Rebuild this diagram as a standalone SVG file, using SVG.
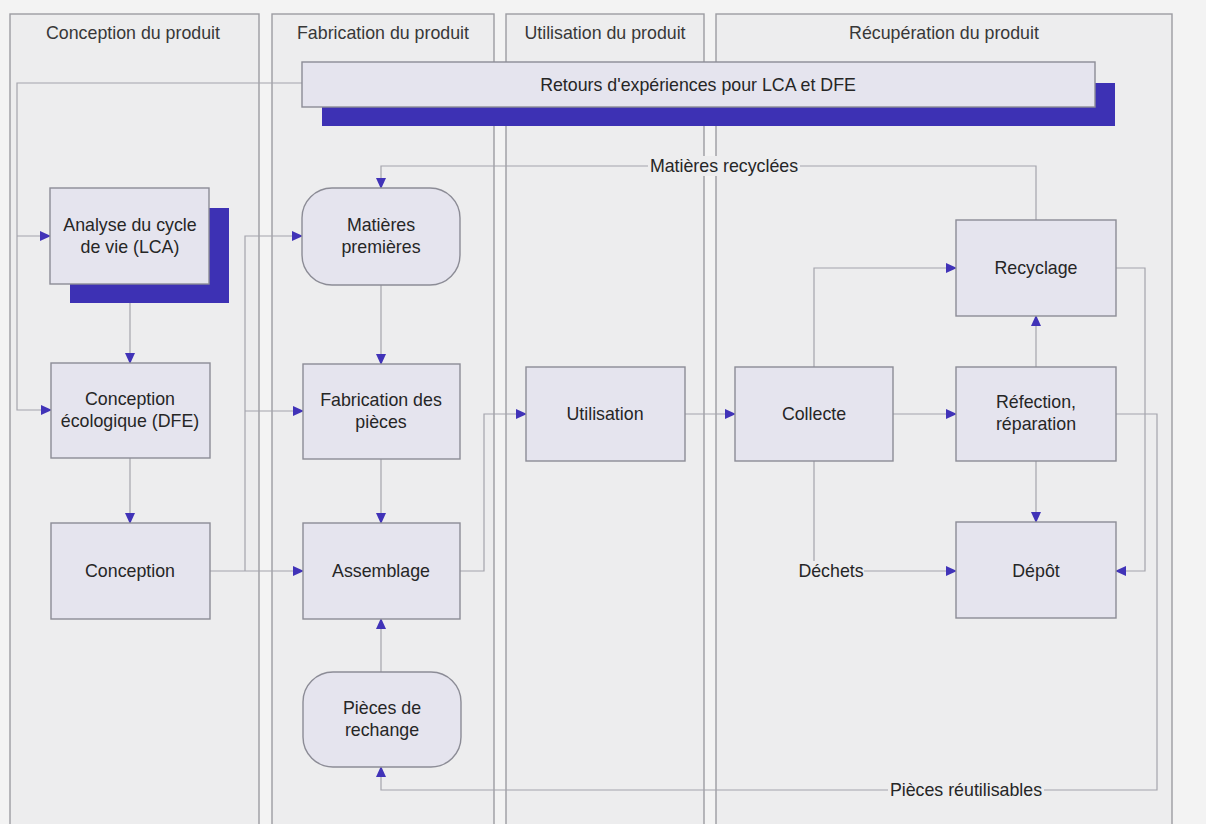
<svg xmlns="http://www.w3.org/2000/svg" width="1206" height="824" viewBox="0 0 1206 824">
  <style>
    .lane { fill: #ededee; stroke: #9c9ca2; stroke-width: 1.4; }
    .lanetitle { font-family: "Liberation Sans", Arial, sans-serif; font-size: 17.8px; fill: #383838; text-anchor: middle; }
    .box { fill: #e5e4ee; stroke: #8c8c96; stroke-width: 1.4; }
    .shadow { fill: #3d31b4; }
    .label { font-family: "Liberation Sans", Arial, sans-serif; font-size: 17.8px; fill: #262626; text-anchor: middle; }
    .conn { fill: none; stroke: #a4a4ac; stroke-width: 1.2; }
    .lblbg { fill: #ededee; }
  </style>
  <defs>
    <marker id="arrow" markerUnits="userSpaceOnUse" markerWidth="11" markerHeight="10" refX="10" refY="5" orient="auto">
      <path d="M0,0 L11,5 L0,10 z" fill="#4133b8"/>
    </marker>
  </defs>

  <rect width="1206" height="824" fill="#f3f3f3"/>

  <!-- swimlanes -->
  <g id="lanes">
    <g id="lane-conception">
      <rect class="lane" x="10" y="14" width="249" height="830"/>
      <text class="lanetitle" x="133" y="39">Conception du produit</text>
    </g>
    <g id="lane-fabrication">
      <rect class="lane" x="272" y="14" width="222" height="830"/>
      <text class="lanetitle" x="383" y="39">Fabrication du produit</text>
    </g>
    <g id="lane-utilisation">
      <rect class="lane" x="506" y="14" width="198" height="830"/>
      <text class="lanetitle" x="605" y="39">Utilisation du produit</text>
    </g>
    <g id="lane-recuperation">
      <rect class="lane" x="716" y="14" width="456" height="830"/>
      <text class="lanetitle" x="944" y="39">Récupération du produit</text>
    </g>
  </g>

  <!-- connectors -->
  <g id="connectors">
    <path class="conn" d="M302,83 H17 V410 H51" marker-end="url(#arrow)"/>
    <path class="conn" d="M17,236 H50" marker-end="url(#arrow)"/>
    <path class="conn" d="M130,303 V363" marker-end="url(#arrow)"/>
    <path class="conn" d="M130,458 V523" marker-end="url(#arrow)"/>
    <path class="conn" d="M210,571 H303" marker-end="url(#arrow)"/>
    <path class="conn" d="M245,571 V236 H302" marker-end="url(#arrow)"/>
    <path class="conn" d="M245,411 H303" marker-end="url(#arrow)"/>
    <path class="conn" d="M381,285 V364" marker-end="url(#arrow)"/>
    <path class="conn" d="M381,459 V523" marker-end="url(#arrow)"/>
    <path class="conn" d="M381,672 V619" marker-end="url(#arrow)"/>
    <path class="conn" d="M460,571 H484 V414 H526" marker-end="url(#arrow)"/>
    <path class="conn" d="M685,414 H735" marker-end="url(#arrow)"/>
    <path class="conn" d="M893,414 H956" marker-end="url(#arrow)"/>
    <path class="conn" d="M814,367 V268 H956" marker-end="url(#arrow)"/>
    <path class="conn" d="M814,461 V571 H956" marker-end="url(#arrow)"/>
    <path class="conn" d="M1036,367 V316" marker-end="url(#arrow)"/>
    <path class="conn" d="M1036,461 V522" marker-end="url(#arrow)"/>
    <path class="conn" d="M1116,268 H1145 V571 H1116" marker-end="url(#arrow)"/>
    <path class="conn" d="M1116,414 H1157 V790 H381 V767" marker-end="url(#arrow)"/>
    <path class="conn" d="M1036,220 V166 H381 V188" marker-end="url(#arrow)"/>
    <!-- connector labels -->
    <rect class="lblbg" x="648" y="156" width="152" height="20"/>
    <text class="label" x="724" y="172">Matières recyclées</text>
    <rect class="lblbg" x="798" y="561" width="66" height="20"/>
    <text class="label" x="831" y="577">Déchets</text>
    <rect class="lblbg" x="888" y="780" width="156" height="20"/>
    <text class="label" x="966" y="796">Pièces réutilisables</text>
  </g>

  <!-- nodes -->
  <g id="retours">
    <rect class="shadow" x="322" y="83" width="793" height="43"/>
    <rect class="box" x="302" y="62" width="793" height="45"/>
    <text class="label" x="698" y="91">Retours d'expériences pour LCA et DFE</text>
  </g>
  <g id="lca">
    <rect class="shadow" x="70" y="208" width="159" height="95"/>
    <rect class="box" x="50" y="188" width="159" height="96"/>
    <text class="label" x="130" y="231">Analyse du cycle</text>
    <text class="label" x="130" y="253">de vie (LCA)</text>
  </g>
  <g id="dfe">
    <rect class="box" x="51" y="363" width="159" height="95"/>
    <text class="label" x="130" y="405">Conception</text>
    <text class="label" x="130" y="427">écologique (DFE)</text>
  </g>
  <g id="conception">
    <rect class="box" x="51" y="523" width="159" height="96"/>
    <text class="label" x="130" y="577">Conception</text>
  </g>
  <g id="matieres">
    <rect class="box" x="302" y="188" width="158" height="97" rx="30" ry="30"/>
    <text class="label" x="381" y="231">Matières</text>
    <text class="label" x="381" y="253">premières</text>
  </g>
  <g id="fabrication">
    <rect class="box" x="303" y="364" width="157" height="95"/>
    <text class="label" x="381" y="406">Fabrication des</text>
    <text class="label" x="381" y="428">pièces</text>
  </g>
  <g id="assemblage">
    <rect class="box" x="303" y="523" width="157" height="96"/>
    <text class="label" x="381" y="577">Assemblage</text>
  </g>
  <g id="rechange">
    <rect class="box" x="303" y="672" width="158" height="95" rx="30" ry="30"/>
    <text class="label" x="382" y="714">Pièces de</text>
    <text class="label" x="382" y="736">rechange</text>
  </g>
  <g id="utilisation">
    <rect class="box" x="526" y="367" width="159" height="94"/>
    <text class="label" x="605" y="420">Utilisation</text>
  </g>
  <g id="collecte">
    <rect class="box" x="735" y="367" width="158" height="94"/>
    <text class="label" x="814" y="420">Collecte</text>
  </g>
  <g id="recyclage">
    <rect class="box" x="956" y="220" width="160" height="96"/>
    <text class="label" x="1036" y="274">Recyclage</text>
  </g>
  <g id="refection">
    <rect class="box" x="956" y="367" width="160" height="94"/>
    <text class="label" x="1036" y="408">Réfection,</text>
    <text class="label" x="1036" y="430">réparation</text>
  </g>
  <g id="depot">
    <rect class="box" x="956" y="522" width="160" height="96"/>
    <text class="label" x="1036" y="577">Dépôt</text>
  </g>
</svg>
